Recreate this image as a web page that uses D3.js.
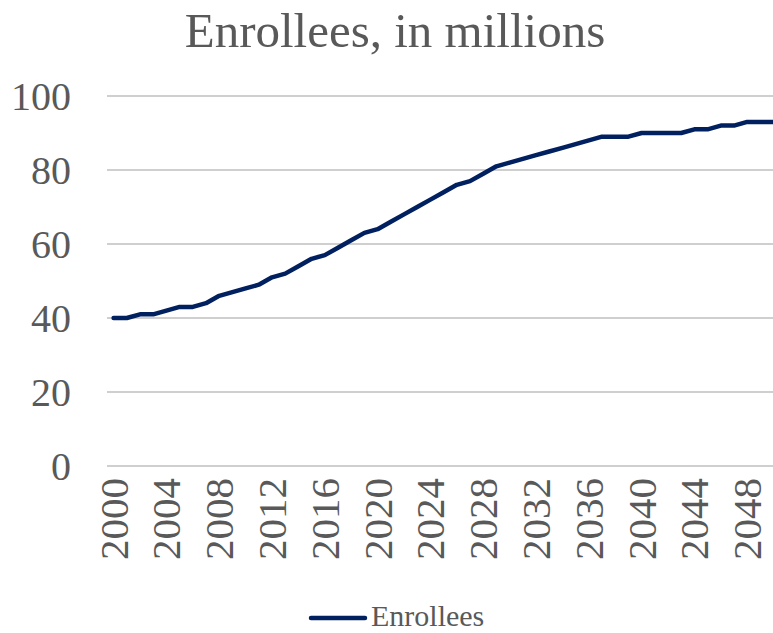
<!DOCTYPE html>
<html>
<head>
<meta charset="utf-8">
<script src="https://cdn.jsdelivr.net/npm/d3@7"></script>
<style>
  html, body { margin: 0; padding: 0; background: #fff; overflow: hidden; }
  text { font-family: "Liberation Serif", "Times New Roman", serif; fill: #595959; }
</style>
</head>
<body>
<div id="chart"></div>
<script>
const years = d3.range(2000, 2051);
const enrollees = [
    40, 40, 41, 41, 42, 43, 43, 44, 46, 47,
    48, 49, 51, 52, 54, 56, 57, 59, 61, 63,
    64, 66, 68, 70, 72, 74, 76, 77, 79, 81,
    82, 83, 84, 85, 86, 87, 88, 89, 89, 89,
    90, 90, 90, 90, 91, 91, 92, 92, 93, 93,
    93
];
const yTicks = [0, 20, 40, 60, 80, 100];
const xTickYears = d3.range(2000, 2051, 4);

const chartW = 773, chartH = 633;
const plotLeft = 107, plotTop = 96, plotBottom = 466;
const band = 13.2;

const svg = d3.select('#chart')
    .append('svg')
    .attr('width', chartW)
    .attr('height', chartH);

// Escalas
const x = d3.scalePoint()
    .domain(years)
    .range([plotLeft + band / 2, plotLeft + band * (years.length - 0.5)]);

const y = d3.scaleLinear()
    .domain([0, 100])
    .range([plotBottom, plotTop]);

// Title
svg.append('text')
    .attr('x', 395)
    .attr('y', 47)
    .attr('text-anchor', 'middle')
    .style('font-size', '49px')
    .text('Enrollees, in millions');

// Gridlines
svg.append('g')
    .selectAll('line')
    .data(yTicks)
    .join('line')
    .attr('x1', plotLeft)
    .attr('x2', plotLeft + band * years.length)
    .attr('y1', d => y(d))
    .attr('y2', d => y(d))
    .attr('stroke', '#BFBFBF')
    .attr('stroke-width', 1.5);

// Y labels
svg.append('g')
    .selectAll('text')
    .data(yTicks)
    .join('text')
    .attr('x', 71)
    .attr('y', d => y(d))
    .attr('dy', '0.34em')
    .attr('text-anchor', 'end')
    .style('font-size', '40px')
    .text(d => d);

// X labels
svg.append('g')
    .selectAll('text')
    .data(xTickYears)
    .join('text')
    .attr('transform', d => `translate(${x(d)},478) rotate(-90)`)
    .attr('dy', '0.34em')
    .attr('text-anchor', 'end')
    .style('font-size', '41px')
    .text(d => d);

// Line
const line = d3.line()
    .x((d, i) => x(years[i]))
    .y(d => y(d));

svg.append('path')
    .datum(enrollees)
    .attr('fill', 'none')
    .attr('stroke', '#002060')
    .attr('stroke-width', 4.5)
    .attr('stroke-linejoin', 'round')
    .attr('stroke-linecap', 'round')
    .attr('d', line);

// Legend
svg.append('line')
    .attr('x1', 311)
    .attr('x2', 365)
    .attr('y1', 618)
    .attr('y2', 618)
    .attr('stroke', '#002060')
    .attr('stroke-width', 4.5)
    .attr('stroke-linecap', 'round');

svg.append('text')
    .attr('x', 371)
    .attr('y', 626)
    .style('font-size', '30px')
    .text('Enrollees');
</script>
</body>
</html>
